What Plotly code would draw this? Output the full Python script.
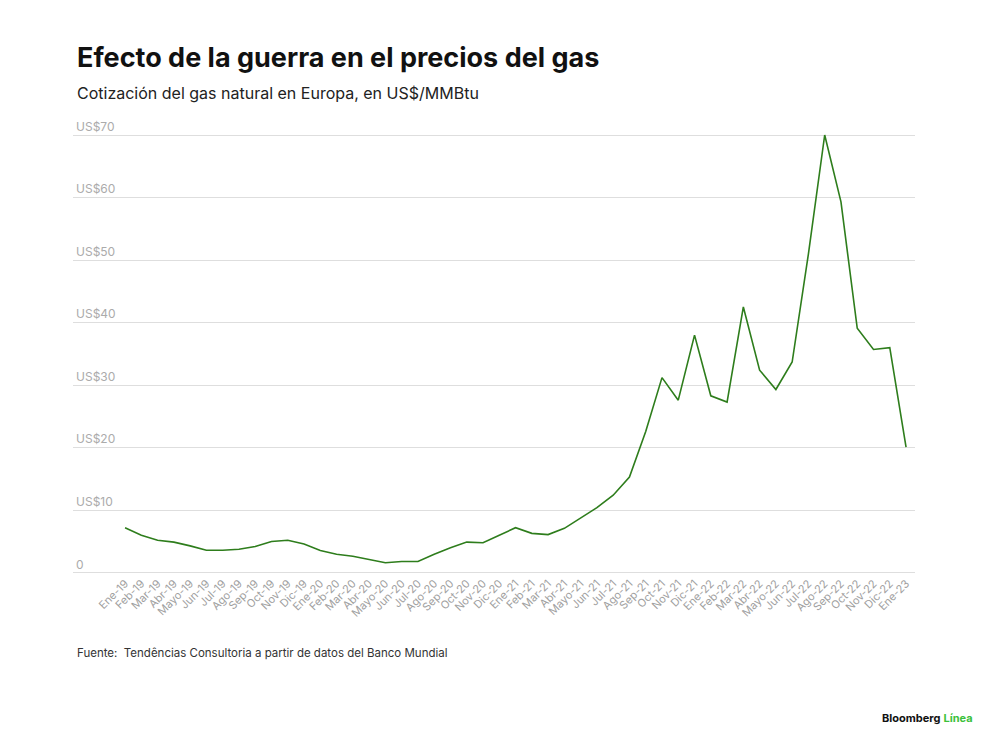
import plotly.graph_objects as go

# Cotizacion mensual del gas natural en Europa (US$/MMBtu)
meses = [
    "Ene-19", "Feb-19", "Mar-19", "Abr-19", "Mayo-19", "Jun-19", "Jul-19", "Ago-19",
    "Sep-19", "Oct-19", "Nov-19", "Dic-19",
    "Ene-20", "Feb-20", "Mar-20", "Abr-20", "Mayo-20", "Jun-20", "Jul-20", "Ago-20",
    "Sep-20", "Oct-20", "Nov-20", "Dic-20",
    "Ene-21", "Feb-21", "Mar-21", "Abr-21", "Mayo-21", "Jun-21", "Jul-21", "Ago-21",
    "Sep-21", "Oct-21", "Nov-21", "Dic-21",
    "Ene-22", "Feb-22", "Mar-22", "Abr-22", "Mayo-22", "Jun-22", "Jul-22", "Ago-22",
    "Sep-22", "Oct-22", "Nov-22", "Dic-22",
    "Ene-23",
]
precio = [
    7.2, 6.0, 5.2, 4.9, 4.3, 3.6, 3.6, 3.75, 4.2, 5.0, 5.2, 4.6,
    3.55, 2.95, 2.65, 2.1, 1.6, 1.8, 1.8, 2.95, 4.0, 4.9, 4.8, 6.0,
    7.2, 6.3, 6.1, 7.1, 8.8, 10.4, 12.4, 15.3, 22.6, 31.2, 27.6, 38.0,
    28.3, 27.3, 42.5, 32.4, 29.3, 33.7, 51.0, 70.0, 59.3, 39.1, 35.7, 36.0,
    20.1,
]
y_ticks = [0, 10, 20, 30, 40, 50, 60, 70]
y_labels = ["0", "US$10", "US$20", "US$30", "US$40", "US$50", "US$60", "US$70"]

font = "Inter"

fig = go.Figure(go.Scatter(
    x=meses, y=precio, mode="lines",
    line=dict(color="#2e7d1c", width=1.6),
    hoverinfo="x+y",
))

# the page body adds 8px, so the figure is a bit smaller than the window
fig.update_layout(
    width=992, height=739,
    margin=dict(l=65, r=85, t=102, b=173),
    paper_bgcolor="white", plot_bgcolor="white",
    showlegend=False,
    font=dict(family=font),
    xaxis=dict(
        type="category", range=[-3.2, 48.55],
        tickangle=-45, tickfont=dict(size=11, color="#a0a0a0"),
        showgrid=False, showline=False, ticks="", zeroline=False,
    ),
    yaxis=dict(
        range=[-0.2, 74], tickvals=y_ticks, ticktext=y_labels,
        ticklabelposition="inside top", tickfont=dict(size=12, color="#ababab"),
        showgrid=True, gridcolor="#dedede", gridwidth=1,
        zeroline=False, showline=False, ticks="",
    ),
)

notas = [
    dict(text="<b>Efecto de la guerra en el precios del gas</b>", x=0.0024, y=1.114,
         font=dict(size=27, color="#111111")),
    dict(text="Cotización del gas natural en Europa, en US$/MMBtu", x=0.0024, y=1.0366,
         font=dict(size=16, color="#222222")),
    dict(text="Fuente:  Tendências Consultoria a partir de datos del Banco Mundial", x=0.0024, y=-0.1703,
         font=dict(size=11.5, color="#333333")),
]
for n in notas:
    fig.add_annotation(xref="paper", yref="paper", xanchor="left", yanchor="middle",
                       showarrow=False, **n)

fig.add_annotation(
    text="<b>Bloomberg</b> <b><span style='color:#3cc13b'>Línea</span></b>",
    xref="paper", yref="paper", x=1.071, y=-0.3103, xanchor="right", yanchor="middle",
    showarrow=False, font=dict(size=11, color="#111111"),
)

fig.write_html("out.html")
